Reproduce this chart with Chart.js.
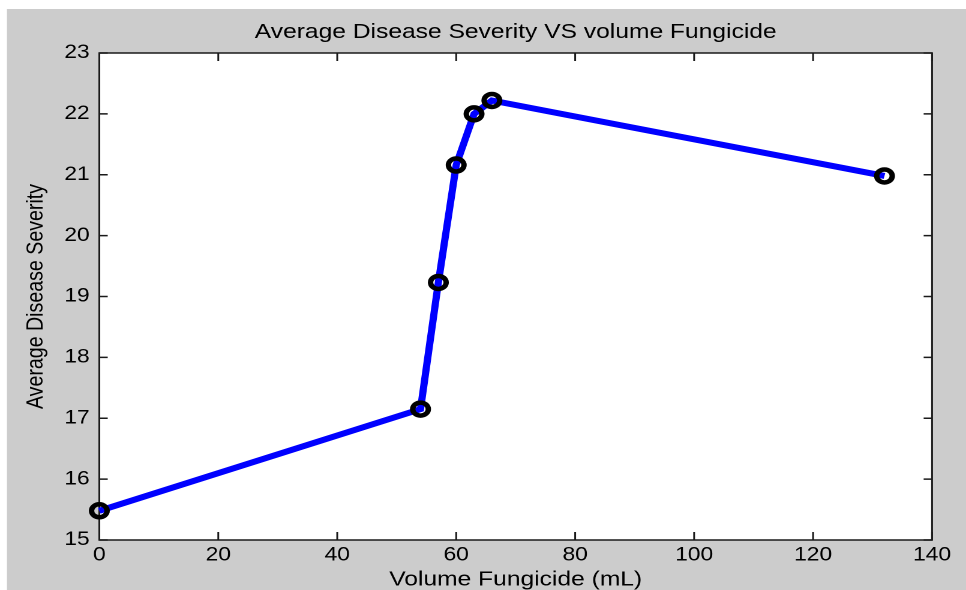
<!DOCTYPE html>
<html>
<head>
<meta charset="utf-8">
<title>Average Disease Severity VS volume Fungicide</title>
<script src="https://cdn.jsdelivr.net/npm/chart.js@4"></script>
<style>
  html, body { margin: 0; padding: 0; background: #fff; overflow: hidden; }
  #wrap { width: 966px; height: 590px; }
</style>
</head>
<body>
<div id="wrap">
  <!-- drawn at 805 logical px wide, shown at 966 (the reference is stretched sideways) -->
  <canvas id="chart" width="805" height="590" style="width:966px;height:590px"></canvas>
</div>
<script>
// Data
const volumes = [0, 54, 57, 60, 63, 66, 132];                   // Volume Fungicide (mL)
const severity = [15.48, 17.15, 19.23, 21.16, 22.0, 22.22, 20.98]; // Average Disease Severity

const xTicks = { min: 0, max: 140, step: 20 };
const yTicks = { min: 15, max: 23, step: 1 };

const titleText = 'Average Disease Severity VS volume Fungicide';
const xTitle = 'Volume Fungicide (mL)';
const yTitle = 'Average Disease Severity';

Chart.defaults.font.family = "'Liberation Sans', Arial, sans-serif";
Chart.defaults.color = '#000';

// gray figure background, white axes box, inward tick marks like matlab
const matlabFrame = {
    id: 'matlabFrame',
    beforeDraw(chart) {
        const { ctx, chartArea: a, width, height } = chart;
        ctx.save();
        ctx.fillStyle = '#ffffff';
        ctx.fillRect(0, 0, width, height);
        ctx.fillStyle = '#cccccc';
        ctx.fillRect(5.8, 9, width, height);
        ctx.fillStyle = '#ffffff';
        ctx.fillRect(a.left, a.top, a.right - a.left, a.bottom - a.top);
        ctx.restore();
    },
    beforeDatasetsDraw(chart) {
        const { ctx, chartArea: a, scales: { x, y } } = chart;
        ctx.save();
        ctx.strokeStyle = '#1a1a1a';
        ctx.lineWidth = 1.5;
        ctx.beginPath();
        x.ticks.forEach(t => {
            const px = x.getPixelForValue(t.value);
            ctx.moveTo(px, a.bottom); ctx.lineTo(px, a.bottom - 8);
            ctx.moveTo(px, a.top); ctx.lineTo(px, a.top + 8);
        });
        y.ticks.forEach(t => {
            const py = y.getPixelForValue(t.value);
            ctx.moveTo(a.left, py); ctx.lineTo(a.left + 7, py);
            ctx.moveTo(a.right, py); ctx.lineTo(a.right - 7, py);
        });
        ctx.stroke();
        ctx.strokeRect(a.left, a.top, a.right - a.left, a.bottom - a.top);
        ctx.restore();
    }
};

const ctx = document.getElementById('chart').getContext('2d');

new Chart(ctx, {
    type: 'line',
    data: {
        datasets: [{
            data: volumes.map((v, i) => ({ x: v, y: severity[i] })),
            borderColor: '#0000ff',
            borderWidth: 6,
            tension: 0,
            pointRadius: 6.5,
            pointBorderWidth: 4.5,
            pointBorderColor: '#000000',
            pointBackgroundColor: 'rgba(0,0,0,0)',
            clip: false
        }]
    },
    options: {
        responsive: false,
        devicePixelRatio: 2,
        animation: false,
        layout: { padding: { left: 0, right: 28.3, top: 0, bottom: 0 } },
        plugins: {
            legend: { display: false },
            tooltip: { enabled: false },
            title: {
                display: true,
                text: titleText,
                fullSize: false,
                color: '#000',
                font: { size: 20.5, weight: 'normal', lineHeight: 1.2 },
                padding: { top: 20, bottom: 8.4 }
            }
        },
        scales: {
            x: {
                type: 'linear',
                min: xTicks.min,
                max: xTicks.max,
                ticks: { stepSize: xTicks.step, padding: 4, color: '#000', font: { size: 19 } },
                grid: { display: false, drawTicks: false },
                border: { display: false },
                title: {
                    display: true,
                    text: xTitle,
                    color: '#000',
                    font: { size: 20.5, lineHeight: 1 },
                    padding: 0
                },
                afterFit(scale) { scale.height = 50; }
            },
            y: {
                type: 'linear',
                min: yTicks.min,
                max: yTicks.max,
                ticks: { stepSize: yTicks.step, padding: 8, color: '#000', font: { size: 19 } },
                grid: { display: false, drawTicks: false },
                border: { display: false },
                title: {
                    display: true,
                    text: yTitle,
                    color: '#000',
                    font: { size: 19.6, lineHeight: 1 },
                    padding: { top: 20.2, bottom: 0 }
                },
                afterFit(scale) { scale.width = 82.75; }
            }
        }
    },
    plugins: [matlabFrame]
});
</script>
</body>
</html>
